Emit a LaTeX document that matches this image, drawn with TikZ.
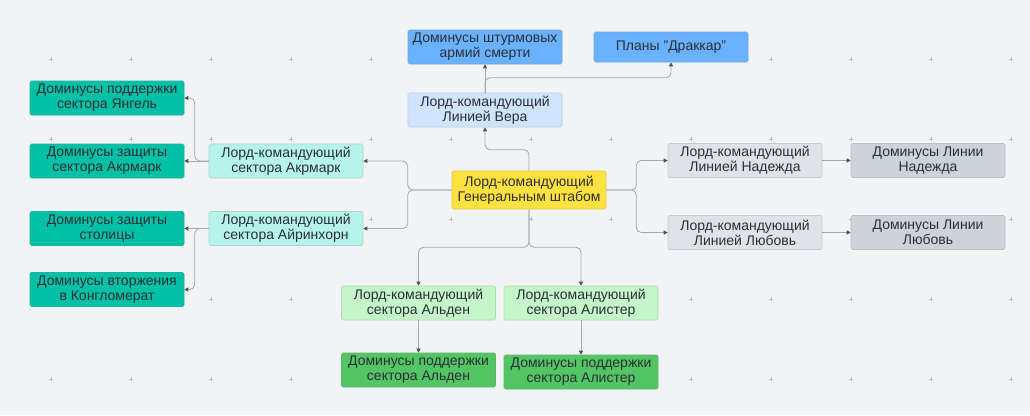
\documentclass[tikz,border=0pt]{standalone}
\usepackage{fontspec}
\setmainfont{Liberation Sans}
\usetikzlibrary{arrows.meta}
\definecolor{bg}{HTML}{F2F3F5}
\definecolor{ink}{HTML}{2B2F36}
\definecolor{wire}{HTML}{A3A7AE}
\definecolor{tip}{HTML}{4A4F57}
\definecolor{mark}{HTML}{B4B8BE}
\definecolor{blueD}{HTML}{6AB2FF}
\definecolor{blueL}{HTML}{CFE4FF}
\definecolor{gold}{HTML}{FFE13F}
\definecolor{tealD}{HTML}{00C0A6}
\definecolor{tealL}{HTML}{B6F4EB}
\definecolor{greenL}{HTML}{C4F6C9}
\definecolor{greenD}{HTML}{54C564}
\definecolor{grayL}{HTML}{DFE2E7}
\definecolor{grayD}{HTML}{CED2D9}
\begin{document}
\begin{tikzpicture}[x=1pt,y=-1pt,
card/.style={%
draw=#1!75!gray,
fill=#1,
line width=0.6pt,
rounded corners=1.5pt,
minimum width=154pt,
minimum height=34pt,
inner sep=0pt,
align=center,
text=ink,
font=\fontsize{14}{15}\selectfont
},
conn/.style={%
draw=wire,
line width=0.8pt,
rounded corners=5pt,
-{Triangle[length=4pt,width=4pt,color=tip]}
},
plus/.style={draw=mark, line width=0.5pt}
]
\fill[bg](0,0)rectangle(1030,415);
\useasboundingbox(0,0)rectangle(1030,415);
%% background marks
\foreach \gx in {51,131,...,1011}
\foreach \gy in {59,139,...,379}
\draw[plus](\gx-2,\gy)--(\gx+2,\gy)(\gx,\gy-2)--(\gx,\gy+2);
%% General staff
\node[card=gold,minimum height=38pt]at(529,190)(hq){Лорд-командующий\\Генеральным штабом};
%% Line Vera
\node[card=blueL]at(485,110)(vera){Лорд-командующий\\Линией Вера};
\node[card=blueD]at(485,47)(storm){Доминусы штурмовых\\армий смерти};
\node[card=blueD,minimum height=30pt]at(671,47)(drakkar){Планы "Драккар"};
\draw[conn](hq.north)--++(0,-21)-|(vera.south);
\draw[conn](vera.north)--(storm.south);
\draw[conn](vera.north)--++(0,-15)-|(drakkar.south);
%% Sector Akrmark
\node[card=tealL]at(286,161)(akr){Лорд-командующий\\сектора Акрмарк};
\node[card=tealD]at(107,98)(yangel){Доминусы поддержки\\сектора Янгель};
\node[card=tealD]at(107,161)(akrdef){Доминусы защиты\\сектора Акрмарк};
\draw[conn](hq.west)--++(-44,0)|-(akr.east);
\draw[conn](akr.west)--(akrdef.east);
\draw[conn](akr.west)--++(-14,0)|-(yangel.east);
%% Sector Airinhorn
\node[card=tealL]at(286,228.5)(airin){Лорд-командующий\\сектора Айринхорн};
\node[card=tealD]at(107,228.5)(capital){Доминусы защиты\\столицы};
\node[card=tealD]at(107,289.5)(konglo){Доминусы вторжения\\в Конгломерат};
\draw[conn](hq.west)--++(-44,0)|-(airin.east);
\draw[conn](airin.west)--(capital.east);
\draw[conn](airin.west)--++(-14,0)|-(konglo.east);
%% Lines Nadezhda and Lyubov
\node[card=grayL]at(745,160.5)(nadezhda){Лорд-командующий\\Линией Надежда};
\node[card=grayD]at(928,160.5)(domnad){Доминусы Линии\\Надежда};
\node[card=grayL]at(745,232.5)(lyubov){Лорд-командующий\\Линией Любовь};
\node[card=grayD]at(928,232.5)(domlyu){Доминусы Линии\\Любовь};
\draw[conn](hq.east)--++(30,0)|-(nadezhda.west);
\draw[conn](hq.east)--++(30,0)|-(lyubov.west);
\draw[conn](nadezhda.east)--(domnad.west);
\draw[conn](lyubov.east)--(domlyu.west);
%% Sectors Alden and Alister
\node[card=greenL]at(418.5,303)(alden){Лорд-командующий\\сектора Альден};
\node[card=greenD]at(418.5,370)(domald){Доминусы поддержки\\сектора Альден};
\node[card=greenL]at(581,303)(alister){Лорд-командующий\\сектора Алистер};
\node[card=greenD]at(581,372)(domali){Доминусы поддержки\\сектора Алистер};
\draw[conn](hq.south)--++(0,38)-|(alden.north);
\draw[conn](hq.south)--++(0,38)-|(alister.north);
\draw[conn](alden.south)--(domald.north);
\draw[conn](alister.south)--(domali.north);
\end{tikzpicture}
\end{document}
